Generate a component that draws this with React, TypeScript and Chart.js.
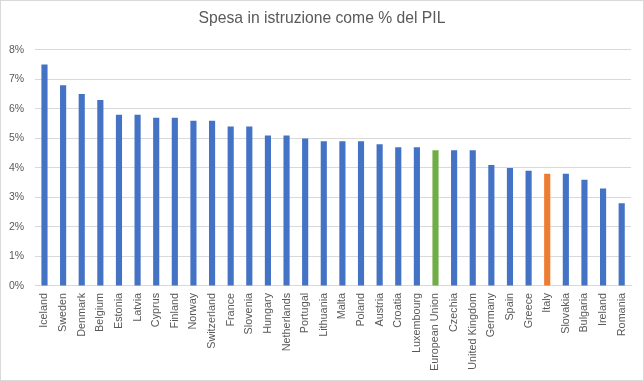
import React, { useEffect, useRef } from "react";
import { Chart, registerables } from "chart.js";

Chart.register(...registerables);

const categories = [
  "Iceland", "Sweden", "Denmark", "Belgium", "Estonia", "Latvia", "Cyprus", "Finland",
  "Norway", "Switzerland", "France", "Slovenia", "Hungary", "Netherlands", "Portugal",
  "Lithuania", "Malta", "Poland", "Austria", "Croatia", "Luxembourg", "European Union",
  "Czechia", "United Kingdom", "Germany", "Spain", "Greece", "Italy", "Slovakia",
  "Bulgaria", "Ireland", "Romania",
];

const values = [
  7.5, 6.8, 6.5, 6.3, 5.8, 5.8, 5.7, 5.7,
  5.6, 5.6, 5.4, 5.4, 5.1, 5.1, 5.0,
  4.9, 4.9, 4.9, 4.8, 4.7, 4.7, 4.6,
  4.6, 4.6, 4.1, 4.0, 3.9, 3.8, 3.8,
  3.6, 3.3, 2.8,
];

const highlightColors: Record<string, string> = {
  "European Union": "#70AD47",
  Italy: "#ED7D31",
};
const defaultColor = "#4472C4";

const titleText = "Spesa in istruzione come % del PIL";
const yMin = 0;
const yMax = 8;
const yStep = 1;

export default function App() {
  const ref = useRef<HTMLCanvasElement | null>(null);

  useEffect(() => {
    if (!ref.current) return;
    const font = "'Liberation Sans', 'Noto Sans', sans-serif";
    const titleSize = 15.7;
    const centeredTitle = {
      id: "centeredTitle",
      afterDraw(chart: any) {
        const tb = chart.titleBlock;
        if (!tb) return;
        const ctx = chart.ctx;
        ctx.save();
        ctx.font = `normal ${titleSize}px ${font}`;
        ctx.fillStyle = "#595959";
        ctx.textAlign = "center";
        ctx.textBaseline = "middle";
        const y = tb.top + 4 + (tb.bottom - tb.top - 4 - 22) / 2;
        ctx.fillText(titleText, chart.width / 2, y);
        ctx.restore();
      },
    };
    const chart = new Chart(ref.current, {
      type: "bar",
      data: {
        labels: categories,
        datasets: [
          {
            data: values,
            backgroundColor: categories.map((c) => highlightColors[c] ?? defaultColor),
            barPercentage: 0.6,
            categoryPercentage: 0.55,
          },
        ],
      },
      options: {
        animation: false,
        responsive: false,
        maintainAspectRatio: false,
        layout: { padding: { left: -3, right: 12, top: 4, bottom: 2 } },
        plugins: {
          legend: { display: false },
          tooltip: { enabled: false },
          title: {
            display: true,
            text: titleText,
            color: "rgba(0,0,0,0)",
            font: { family: font, size: titleSize, weight: "normal" },
            padding: { top: 4, bottom: 22 },
          },
        },
        scales: {
          x: {
            grid: { display: false, drawTicks: false },
            border: { display: true, color: "#d9d9d9" },
            ticks: {
              color: "#595959",
              font: { family: font, size: 10.8 },
              minRotation: 90,
              maxRotation: 90,
              autoSkip: false,
              padding: 7,
            },
          },
          y: {
            min: yMin,
            max: yMax,
            grid: { color: "#d9d9d9", drawTicks: false },
            border: { display: false },
            ticks: {
              stepSize: yStep,
              color: "#595959",
              font: { family: font, size: 10.5 },
              padding: 11,
              callback: (v) => `${v}%`,
            },
          },
        },
      },
      plugins: [centeredTitle],
    });
    return () => chart.destroy();
  }, []);

  return (
    <div
      style={{
        position: "fixed",
        left: 0,
        top: 0,
        width: 642,
        height: 379,
        border: "1px solid #d9d9d9",
        background: "#fff",
      }}
    >
      <canvas ref={ref} width={642} height={379} style={{ display: "block" }} />
    </div>
  );
}
